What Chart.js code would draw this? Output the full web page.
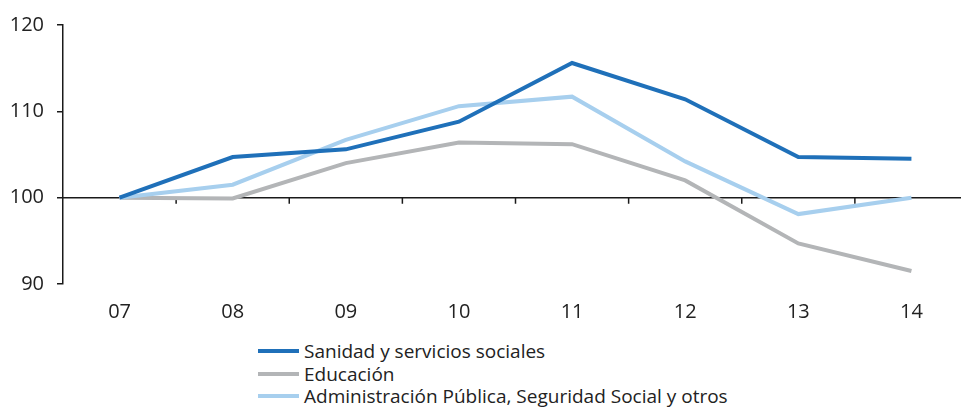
<!DOCTYPE html>
<html>
<head>
<meta charset="utf-8">
<script src="https://cdn.jsdelivr.net/npm/chart.js@4"></script>
<style>
  html, body { margin: 0; padding: 0; background: #fff; overflow: hidden; }
  #wrap { position: relative; width: 961px; height: 412px; overflow: hidden; }
  #box { position: absolute; left: 0; top: 0; width: 968px; height: 330px; }
  #legend { position: absolute; left: 258px; top: 340px; font-family: "Open Sans", sans-serif; font-size: 19px; color: #222; }
  #legend .row { height: 22.5px; line-height: 22.5px; white-space: nowrap; display: flex; align-items: center; }
  #legend .sw { width: 41px; height: 4px; margin-right: 5px; }
</style>
</head>
<body>
<div id="wrap">
  <div id="box"><canvas id="chart"></canvas></div>
  <div id="legend"></div>
</div>
<script>
const years = ["07", "08", "09", "10", "11", "12", "13", "14"];
const sanidad = [100, 104.7, 105.6, 108.8, 115.6, 111.4, 104.7, 104.5];
const educacion = [100, 99.9, 104.0, 106.4, 106.2, 102.0, 94.7, 91.5];
const adminPublica = [100, 101.5, 106.7, 110.6, 111.7, 104.2, 98.1, 100.0];
const yTicks = [90, 100, 110, 120];

const seriesNames = [
  "Sanidad y servicios sociales",
  "Educación",
  "Administración Pública, Seguridad Social y otros",
];
const seriesColors = ["#1f70b9", "#b3b5b7", "#a7cfee"];

Chart.defaults.font.family = "'Open Sans', sans-serif";
Chart.defaults.font.size = 20;
Chart.defaults.color = "#222";

// baseline at 100 with small ticks between categories
const baseLine = {
  id: "baseLine",
  beforeDatasetsDraw(chart) {
    const { ctx, chartArea, scales } = chart;
    const y = scales.y.getPixelForValue(100);
    ctx.save();
    ctx.strokeStyle = "#1a1a1a";
    ctx.lineWidth = 1.5;
    ctx.beginPath();
    ctx.moveTo(chartArea.left, y);
    ctx.lineTo(chartArea.right, y);
    const x = scales.x;
    for (let i = 1; i < years.length; i++) {
      const px = (x.getPixelForValue(i - 1) + x.getPixelForValue(i)) / 2;
      ctx.moveTo(px, y);
      ctx.lineTo(px, y + 6);
    }
    ctx.stroke();
    ctx.restore();
  },
};

const datasets = [sanidad, educacion, adminPublica].map((d, i) => ({
  label: seriesNames[i],
  data: d,
  borderColor: seriesColors[i],
  backgroundColor: seriesColors[i],
  borderWidth: 4,
  pointRadius: 0,
  tension: 0,
  order: i === 0 ? 0 : i === 2 ? 1 : 2,
}));

new Chart(document.getElementById("chart"), {
  type: "line",
  data: { labels: years, datasets },
  options: {
    responsive: true,
    maintainAspectRatio: false,
    animation: false,
    layout: { padding: { top: 12, left: 0, right: 0, bottom: 0 } },
    plugins: { legend: { display: false }, tooltip: { enabled: false } },
    scales: {
      x: {
        offset: true,
        grid: { display: false, drawTicks: false },
        border: { display: false },
        ticks: { padding: 16 },
        afterFit: (s) => { s.height = 46; },
      },
      y: {
        min: 90,
        max: 120,
        afterBuildTicks: (s) => { s.ticks = yTicks.map((v) => ({ value: v })); },
        afterFit: (s) => { s.width = 63; },
        border: { display: true, color: "#1a1a1a", width: 1.5 },
        grid: { drawOnChartArea: false, drawTicks: true, tickLength: 6, color: "#1a1a1a", lineWidth: 1.5 },
        ticks: { padding: 13 },
      },
    },
  },
  plugins: [baseLine],
});

const legend = document.getElementById("legend");
seriesNames.forEach((name, i) => {
  const row = document.createElement("div");
  row.className = "row";
  row.innerHTML = '<span class="sw" style="background:' + seriesColors[i] + '"></span><span>' + name + "</span>";
  legend.appendChild(row);
});
</script>
</body>
</html>
